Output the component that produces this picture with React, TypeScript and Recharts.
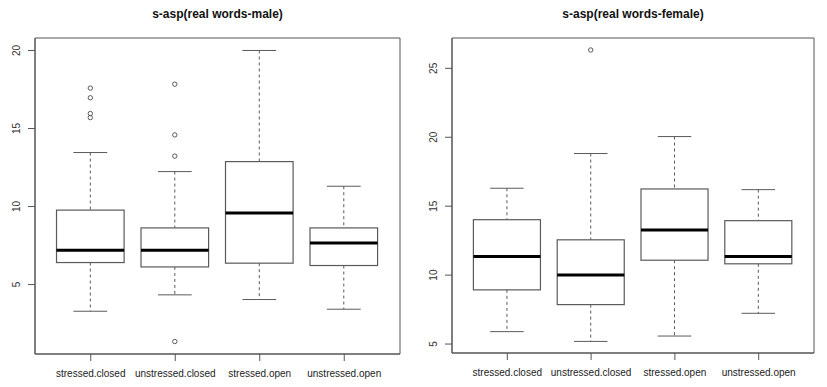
import { BarChart, Bar, XAxis, YAxis, CartesianGrid } from "recharts";

const categories = ["stressed.closed", "unstressed.closed", "stressed.open", "unstressed.open"];

// male panel
const maleLower = [3.29, 4.34, 4.04, 3.42];
const maleQ1 = [6.41, 6.13, 6.37, 6.22];
const maleMedian = [7.2, 7.2, 9.59, 7.67];
const maleQ3 = [9.77, 8.63, 12.88, 8.63];
const maleUpper = [13.46, 12.24, 20.0, 11.3];
const maleOutliers = [[17.59, 16.97, 15.96, 15.7], [17.84, 14.59, 13.23, 1.35], [], []];
const maleTicks = [5, 10, 15, 20];

// female panel
const femaleLower = [5.9, 5.19, 5.58, 7.23];
const femaleQ1 = [8.93, 7.86, 11.08, 10.82];
const femaleMedian = [11.35, 10.0, 13.27, 11.35];
const femaleQ3 = [14.02, 12.56, 16.25, 13.95];
const femaleUpper = [16.3, 18.82, 20.05, 16.2];
const femaleOutliers = [[], [26.33], [], []];
const femaleTicks = [5, 10, 15, 20, 25];

const FRAME = "#555";
const BOX = "#5a5a5a";
const FONT = "Arial, 'Liberation Sans', sans-serif";

const build = (lo: number[], q1: number[], med: number[], q3: number[], hi: number[], out: number[][]) =>
  categories.map((name, i) => ({
    name,
    lower: lo[i],
    q1: q1[i],
    median: med[i],
    q3: q3[i],
    upper: hi[i],
    outliers: out[i],
  }));

const BoxShape = (props: any) => {
  const { x, y, width, height, payload } = props;
  const top = Math.min(y, y + height);
  const bottom = Math.max(y, y + height);
  const lo = payload.lower;
  const hi = payload.upper;
  const toPx = (v: number) => bottom - ((bottom - top) * (v - lo)) / (hi - lo);
  const cx = x + width / 2;
  const cap = width / 4;
  const yQ1 = toPx(payload.q1);
  const yQ3 = toPx(payload.q3);
  const yMed = toPx(payload.median);
  return (
    <g>
      <line x1={cx} x2={cx} y1={toPx(hi)} y2={yQ3} stroke={BOX} strokeDasharray="3 3" />
      <line x1={cx} x2={cx} y1={yQ1} y2={toPx(lo)} stroke={BOX} strokeDasharray="3 3" />
      <line x1={cx - cap} x2={cx + cap} y1={toPx(hi)} y2={toPx(hi)} stroke={BOX} />
      <line x1={cx - cap} x2={cx + cap} y1={toPx(lo)} y2={toPx(lo)} stroke={BOX} />
      <rect x={x} y={yQ3} width={width} height={yQ1 - yQ3} fill="#fff" stroke={BOX} strokeWidth={1.2} />
      <line x1={x} x2={x + width} y1={yMed} y2={yMed} stroke="#000" strokeWidth={3} />
      {payload.outliers.map((v: number, i: number) => (
        <circle key={i} cx={cx} cy={toPx(v)} r={2.2} fill="none" stroke={BOX} strokeWidth={1} />
      ))}
    </g>
  );
};

const YTick = (props: any) => {
  const { x, y, payload } = props;
  const tx = x - 6;
  return (
    <text
      x={tx}
      y={y}
      transform={`rotate(-90, ${tx}, ${y})`}
      textAnchor="middle"
      fontSize={10}
      fill="#333"
      fontFamily={FONT}
    >
      {payload.value}
    </text>
  );
};

const XTick = (props: any) => {
  const { x, y, payload } = props;
  return (
    <text x={x} y={y + 14} textAnchor="middle" fontSize={10} fill="#222" fontFamily={FONT}>
      {payload.value}
    </text>
  );
};

interface PanelProps {
  title: string;
  data: any[];
  domain: [number, number];
  ticks: number[];
  width: number;
  left: number;
  bottom: number;
}

const Panel = ({ title, data, domain, ticks, width, left, bottom }: PanelProps) => {
  const right = 13;
  const plotW = width - left - right;
  const pad = (plotW * 0.16) / 4.32;
  return (
    <div style={{ position: "relative", width, height: 387 }}>
      <div
        style={{
          position: "absolute",
          top: 7,
          left,
          width: plotW,
          textAlign: "center",
          fontFamily: FONT,
          fontWeight: "bold",
          fontSize: 12,
          color: "#111",
        }}
      >
        {title}
      </div>
      <BarChart
        width={width}
        height={387}
        data={data}
        margin={{ top: 38, right, bottom: 0, left: 0 }}
        barSize={(plotW / 4.32) * 0.8}
      >
        {/* plot frame, like R's box() */}
        <CartesianGrid
          stroke={FRAME}
          strokeDasharray=""
          horizontalCoordinatesGenerator={({ offset }: any) => [offset.top, offset.top + offset.height]}
          verticalCoordinatesGenerator={({ offset }: any) => [offset.left, offset.left + offset.width]}
        />
        <XAxis
          dataKey="name"
          height={bottom}
          padding={{ left: pad, right: pad }}
          tickSize={7}
          tickLine={{ stroke: FRAME }}
          axisLine={{ stroke: FRAME }}
          tick={<XTick />}
          interval={0}
        />
        <YAxis
          type="number"
          domain={domain}
          ticks={ticks}
          allowDataOverflow
          width={left}
          tickSize={7}
          tickLine={{ stroke: FRAME }}
          axisLine={{ stroke: FRAME }}
          tick={<YTick />}
        />
        <Bar
          dataKey={(d: any) => [d.lower, d.upper]}
          shape={<BoxShape />}
          isAnimationActive={false}
        />
      </BarChart>
    </div>
  );
};

export default function App() {
  const male = build(maleLower, maleQ1, maleMedian, maleQ3, maleUpper, maleOutliers);
  const female = build(femaleLower, femaleQ1, femaleMedian, femaleQ3, femaleUpper, femaleOutliers);
  return (
    <div
      style={{
        position: "absolute",
        left: 0,
        top: 0,
        width: 827,
        height: 387,
        background: "#fff",
        display: "flex",
      }}
    >
      <Panel
        title="s-asp(real words-male)"
        data={male}
        domain={[0.55, 20.8]}
        ticks={maleTicks}
        width={413}
        left={35}
        bottom={33}
      />
      <Panel
        title="s-asp(real words-female)"
        data={female}
        domain={[4.35, 27.2]}
        ticks={femaleTicks}
        width={414}
        left={39}
        bottom={34}
      />
    </div>
  );
}
